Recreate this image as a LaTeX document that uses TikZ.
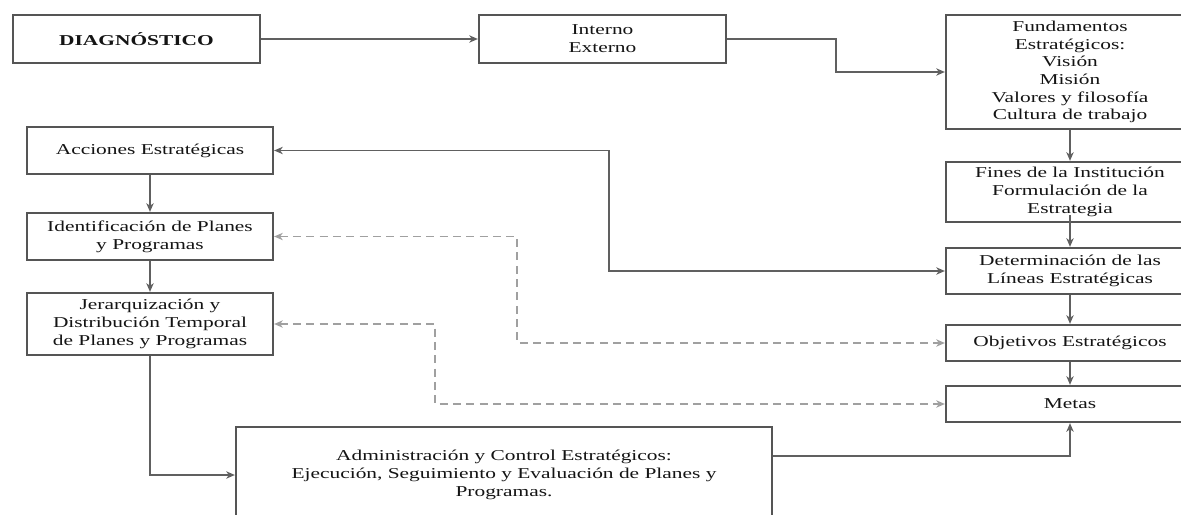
\documentclass[tikz,border=0pt]{standalone}
\usepackage{fontspec}
\setmainfont{Liberation Serif}[FakeStretch=1.42]
\usetikzlibrary{arrows.meta}
\definecolor{boxline}{HTML}{555555}
\definecolor{wire}{HTML}{606060}
\definecolor{dashwire}{HTML}{A0A0A0}
\definecolor{ink}{HTML}{141414}
\begin{document}
\begin{tikzpicture}[x=0.75pt, y=-0.75pt,
  every node/.style={font=\fontsize{11.3pt}{13.3pt}\selectfont, text=ink},
  stagebox/.style={draw=boxline, line width=1.7pt, fill=white, align=center,
    inner sep=0pt, minimum width=#1*0.75pt},
  stagebox/.default=247,
  flow/.style={draw=wire, line width=1.1pt, -{Stealth[length=6.5pt, width=5.5pt, inset=2pt]}},
  twoway/.style={draw=wire, line width=1.1pt, {Stealth[length=6.5pt, width=5.5pt, inset=2pt]}-{Stealth[length=6.5pt, width=5.5pt, inset=2pt]}},
  link/.style={draw=dashwire, line width=1pt, dash pattern=on 6pt off 4pt,
    {Stealth[length=6.5pt, width=5.5pt, inset=2pt]}-{Stealth[length=6.5pt, width=5.5pt, inset=2pt]}},
]
\useasboundingbox (0,0) rectangle (1181,514);
\clip (0,0) rectangle (1181,514);

% top row
\node[stagebox, minimum height=48*0.75pt] (diag) at (136.5,39)
  {\textbf{DIAGNÓSTICO}};
\node[stagebox, minimum height=48*0.75pt] (intext) at (602.5,39)
  {Interno\\Externo};

% right column
\node[stagebox=248, minimum height=114*0.75pt] (fund) at (1070,72)
  {Fundamentos\\Estratégicos:\\Visión\\Misión\\Valores y filosofía\\Cultura de trabajo};
\node[stagebox=248, minimum height=60*0.75pt] (fines) at (1070,192)
  {Fines de la Institución\\Formulación de la\\Estrategia};
\node[stagebox=248, minimum height=46*0.75pt] (deter) at (1070,271)
  {Determinación de las\\Líneas Estratégicas};
\node[stagebox=248, minimum height=36*0.75pt] (objet) at (1070,343)
  {Objetivos Estratégicos};
\node[stagebox=248, minimum height=36*0.75pt] (metas) at (1070,404)
  {Metas};

% left column
\node[stagebox=246, minimum height=47*0.75pt] (acc) at (150,150.5)
  {Acciones Estratégicas};
\node[stagebox=246, minimum height=47*0.75pt] (ident) at (150,236.5)
  {Identificación de Planes\\y Programas};
\node[stagebox=246, minimum height=62*0.75pt] (jerar) at (150,324)
  {Jerarquización y\\Distribución Temporal\\de Planes y Programas};

% bottom box
\node[stagebox=536, minimum height=96*0.75pt] (admin) at (504,475)
  {Administración y Control Estratégicos:\\Ejecución, Seguimiento y Evaluación de Planes y\\Programas.};

% solid connectors
\draw[flow] (diag.east) -- (intext.west);
\draw[flow] (intext.east) -- (836,39) -- (836,72) -- (fund.west);
\draw[flow] (fund.south) -- (fines.north);
\draw[flow] ([yshift=6pt]fines.south) -- (deter.north);
\draw[flow] (deter.south) -- (objet.north);
\draw[flow] (objet.south) -- (metas.north);
\draw[flow] (acc.south) -- (ident.north);
\draw[flow] (ident.south) -- (jerar.north);
\draw[flow] (jerar.south) |- (admin.west);
\draw[flow] ([yshift=14.25pt]admin.east) -| (metas.south);
\draw[twoway] (acc.east) -- (609,150.5) -- (609,271) -- (deter.west);

% dashed two-way links
\draw[link] (ident.east) -- (517,236.5) -- (517,343) -- (objet.west);
\draw[link] (jerar.east) -- (435,324) -- (435,404) -- (metas.west);
\end{tikzpicture}
\end{document}
